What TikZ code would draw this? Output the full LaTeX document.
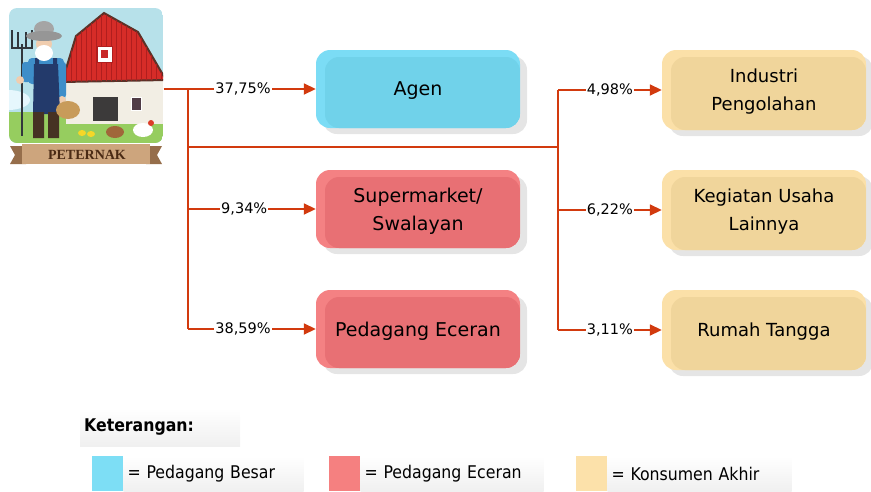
\documentclass[tikz,border=0pt]{standalone}
\usepackage{fontspec}
\setmainfont{DejaVu Sans}
\newfontfamily\legendfont{DejaVu Sans Condensed}
\newfontfamily\bannerfont{Liberation Serif}
\usetikzlibrary{shapes}
\usetikzlibrary{arrows.meta}
\usetikzlibrary{shadows}

\definecolor{flowred}{HTML}{D23A0E}
\definecolor{besarRim}{HTML}{7BDCF5}
\definecolor{besarFill}{HTML}{70D2EA}
\definecolor{eceranRim}{HTML}{F48183}
\definecolor{eceranFill}{HTML}{E87074}
\definecolor{akhirRim}{HTML}{FBE0A8}
\definecolor{akhirFill}{HTML}{F0D59B}
\definecolor{legendBesar}{HTML}{7DDEF5}
\definecolor{legendEceran}{HTML}{F58080}
\definecolor{legendAkhir}{HTML}{FCE1AA}

\tikzset{
	stagenode/.style = {
		align=center,
		inner sep=0pt,
		text depth=0pt,
		rounded corners=14pt,
		minimum width=204pt,
		minimum height=78pt,
		font=\fontsize{19}{28}\selectfont,
		drop shadow={shadow xshift=7pt, shadow yshift=-6pt, fill=black!10, opacity=1}
	},
	bevel/.style = {
		path picture={\fill[#1, rounded corners=14pt]
			([xshift=9pt,yshift=-7pt]path picture bounding box.north west) rectangle
			(path picture bounding box.south east);}
	},
	node_besar/.style = {
		stagenode,
		fill=besarRim,
		bevel=besarFill
	},
	node_eceran/.style = {
		stagenode,
		fill=eceranRim,
		bevel=eceranFill
	},
	node_akhir/.style = {
		stagenode,
		fill=akhirRim,
		bevel=akhirFill,
		minimum height=80pt,
		font=\fontsize{18}{28}\selectfont
	},
	flow/.style = {
		draw=flowred,
		line width=1.8pt
	},
	pct/.style = {
		fill=white,
		inner sep=1pt,
		font=\fontsize{14.5}{16}\selectfont
	},
	legend_box/.style = {
		anchor=north west,
		inner xsep=4pt,
		inner ysep=0pt,
		top color=white,
		bottom color=black!6,
		align=left,
		font=\legendfont\fontsize{17.5}{19}\selectfont
	},
	swatch/.style = {
		anchor=north west,
		inner sep=0pt,
		minimum width=31pt,
		minimum height=35pt,
		fill=#1
	},
}

\begin{document}
\begin{tikzpicture}[x=1pt,y=-1pt,>={Triangle[length=12pt,width=11pt]}]
\useasboundingbox (0,0) rectangle (871,491);

% the farm picture on the left
\node [inner sep=0pt, minimum width=155pt, minimum height=157pt] (peternak) at (86,86) {};
\begin{scope}
	\clip [rounded corners=8pt] (9,8) rectangle (163,143);
	\fill [color={rgb,255:red,183;green,225;blue,234}] (9,8) rectangle (163,143);
	\fill [white!90!cyan] (8,100) ellipse (22pt and 10pt);
	\fill [color={rgb,255:red,150;green,205;blue,95}] (9,112) rectangle (163,143);
	% barn
	\fill [color={rgb,255:red,242;green,238;blue,228}] (66,78) rectangle (163,124);
	\filldraw [fill={rgb,255:red,214;green,44;blue,40}, draw={rgb,255:red,90;green,50;blue,40}, line width=2pt]
		(62,82) -- (76,36) -- (104,13) -- (138,32) -- (166,80) -- cycle;
	\begin{scope}
		\clip (62,82) -- (76,36) -- (104,13) -- (138,32) -- (166,80) -- cycle;
		\foreach \sx in {66,71,...,166}
			\draw [color={rgb,255:red,176;green,30;blue,30}, line width=0.6pt] (\sx,10) -- (\sx,85);
	\end{scope}
	\filldraw [fill=white, draw={rgb,255:red,176;green,30;blue,30}, line width=0.8pt] (97,46) rectangle (112,62);
	\fill [color={rgb,255:red,200;green,40;blue,40}] (101,50) rectangle (108,58);
	\fill [color={rgb,255:red,60;green,58;blue,58}] (93,97) rectangle (118,121);
	\filldraw [fill={rgb,255:red,80;green,60;blue,70}, draw=white, line width=1pt] (131,97) rectangle (141,110);
	% farmer with pitchfork
	\draw [color={rgb,255:red,50;green,55;blue,60}, line width=2pt] (22,44) -- (22,136);
	\draw [color={rgb,255:red,50;green,55;blue,60}, line width=1.3pt]
		(12,30) -- (12,48) -- (32,48) -- (32,30)
		(18,32) -- (18,48)
		(26,32) -- (26,48);
	\fill [color={rgb,255:red,62;green,142;blue,201}, rounded corners=4pt] (28,58) rectangle (64,84);
	\fill [color={rgb,255:red,62;green,142;blue,201}, rounded corners=3pt] (22,62) rectangle (31,82);
	\fill [color={rgb,255:red,62;green,142;blue,201}, rounded corners=3pt] (58,62) rectangle (66,98);
	\fill [color={rgb,255:red,240;green,205;blue,175}] (20,80) circle (4pt) (62,100) circle (4pt);
	\fill [color={rgb,255:red,35;green,58;blue,107}] (34,64) -- (58,64) -- (60,114) -- (33,114) -- cycle;
	\fill [color={rgb,255:red,35;green,58;blue,107}] (35,58) rectangle (39,68) (53,58) rectangle (57,68);
	\fill [color={rgb,255:red,70;green,50;blue,35}] (33,112) rectangle (44,138) (48,112) rectangle (59,138);
	\fill [color={rgb,255:red,240;green,205;blue,175}] (44,44) circle (8pt);
	\fill [white] (44,53) ellipse (9pt and 8pt);
	\fill [color={rgb,255:red,165;green,165;blue,165}] (44,29) ellipse (10pt and 8pt);
	\fill [color={rgb,255:red,150;green,150;blue,150}] (44,36) ellipse (18pt and 5pt);
	\fill [color={rgb,255:red,200;green,155;blue,90}] (68,110) ellipse (12pt and 9pt);
	% poultry
	\fill [color={rgb,255:red,245;green,215;blue,40}] (82,133) ellipse (4pt and 3pt) (91,134) ellipse (4pt and 3pt);
	\fill [color={rgb,255:red,160;green,103;blue,58}] (115,132) ellipse (9pt and 6pt);
	\fill [white] (143,130) ellipse (10pt and 7pt);
	\fill [color={rgb,255:red,220;green,60;blue,40}] (151,123) circle (3pt);
\end{scope}
% name banner
\fill [color={rgb,255:red,150;green,110;blue,75}] (10,146) -- (26,146) -- (26,164) -- (10,164) -- (15,155) -- cycle;
\fill [color={rgb,255:red,150;green,110;blue,75}] (162,146) -- (146,146) -- (146,164) -- (162,164) -- (157,155) -- cycle;
\fill [color={rgb,255:red,205;green,165;blue,125}] (22,144) rectangle (150,164);
\node [font=\bannerfont\bfseries\fontsize{14}{15}\selectfont, text={rgb,255:red,74;green,42;blue,20}, inner sep=0pt] (banner) at (87,155) {PETERNAK};

% trading stages
\node [node_besar] (agen) at (418,89) {Agen};
\node [node_eceran] (swalayan) at (418,209) {Supermarket/\\Swalayan};
\node [node_eceran] (eceran) at (418,329) {Pedagang Eceran};
\node [node_akhir] (industri) at (764,90) {Industri\\Pengolahan};
\node [node_akhir] (usaha) at (764,210) {Kegiatan Usaha\\Lainnya};
\node [node_akhir] (rumah) at (764,330) {Rumah Tangga};

% connectors
\coordinate (split) at (188,147);
\coordinate (turn) at (558,147);
\draw [flow] (peternak.east |- agen) -- (split |- agen) -- (split |- eceran);
\draw [flow] (split) -- (turn);
\draw [flow] (turn |- industri) -- (turn |- rumah);
\draw [flow,->] (split |- agen) -- node [pct, pos=.43] {37,75\%} (agen.west);
\draw [flow,->] (split |- swalayan) -- node [pct, pos=.44] {9,34\%} (swalayan.west);
\draw [flow,->] (split |- eceran) -- node [pct, pos=.43] {38,59\%} (eceran.west);
\draw [flow,->] (turn |- industri) -- node [pct, pos=.5] {4,98\%} (industri.west);
\draw [flow,->] (turn |- usaha) -- node [pct, pos=.5] {6,22\%} (usaha.west);
\draw [flow,->] (turn |- rumah) -- node [pct, pos=.5] {3,11\%} (rumah.west);

% legend
\node [legend_box, text width=152pt, minimum height=38pt, font=\legendfont\bfseries\fontsize{17.5}{19}\selectfont] (keterangan) at (80,408) {Keterangan:};
\node [swatch=legendBesar] (sw_besar) at (92,456) {};
\node [legend_box, text width=172pt, minimum height=35pt] (lg_besar) at (sw_besar.north east) {= Pedagang Besar};
\node [swatch=legendEceran] (sw_eceran) at (329,456) {};
\node [legend_box, text width=175pt, minimum height=35pt] (lg_eceran) at (sw_eceran.north east) {= Pedagang Eceran};
\node [swatch=legendAkhir] (sw_akhir) at (576,456) {};
\node [legend_box, text width=176pt, minimum height=35pt] (lg_akhir) at (sw_akhir.north east) {= Konsumen Akhir};
\end{tikzpicture}
\end{document}
